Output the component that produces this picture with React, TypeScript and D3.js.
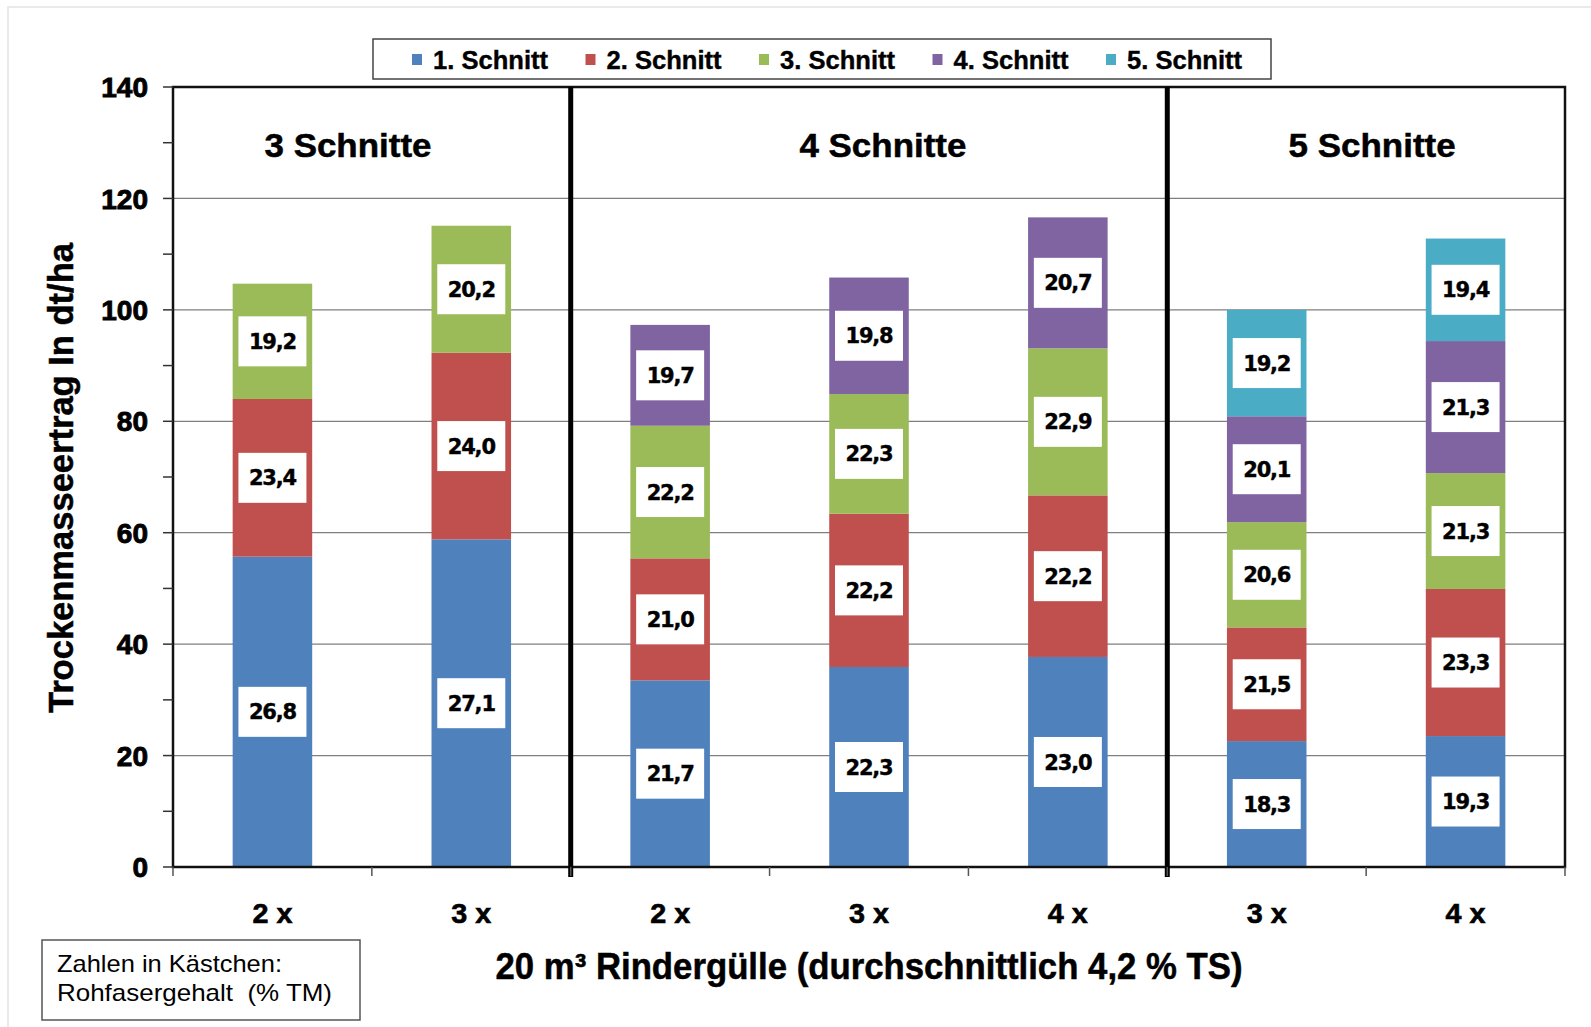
import React from "react";
import * as d3 from "d3";

// x categories (Güllegaben) and the group they belong to
const categories = ["2 x", "3 x", "2 x", "3 x", "4 x", "3 x", "4 x"];
const groupNames = ["3 Schnitte", "4 Schnitte", "5 Schnitte"];
const groupSizes = [2, 3, 2];
// where the group title sits, in category units (0 = first bar)
const groupTitleAt = [0.38, 3.07, 5.53];

const seriesNames = ["1. Schnitt", "2. Schnitt", "3. Schnitt", "4. Schnitt", "5. Schnitt"];
const seriesColors = ["#4F81BD", "#C0504D", "#9BBB59", "#8064A2", "#4BACC6"];

// Trockenmasseertrag (dt/ha) per Schnitt
const yield1 = [55.7, 58.8, 33.5, 35.9, 37.7, 22.6, 23.5];
const yield2 = [28.3, 33.5, 21.9, 27.5, 29.0, 20.4, 26.4];
const yield3 = [20.7, 22.8, 23.8, 21.5, 26.4, 18.9, 20.8];
const yield4 = [0, 0, 18.1, 20.9, 23.5, 19.0, 23.7];
const yield5 = [0, 0, 0, 0, 0, 19.1, 18.4];

// Rohfasergehalt (% TM) in the boxes
const fiber1 = ["26,8", "27,1", "21,7", "22,3", "23,0", "18,3", "19,3"];
const fiber2 = ["23,4", "24,0", "21,0", "22,2", "22,2", "21,5", "23,3"];
const fiber3 = ["19,2", "20,2", "22,2", "22,3", "22,9", "20,6", "21,3"];
const fiber4 = ["", "", "19,7", "19,8", "20,7", "20,1", "21,3"];
const fiber5 = ["", "", "", "", "", "19,2", "19,4"];

const yTicks = [0, 20, 40, 60, 80, 100, 120, 140];

const W = 1591;
const H = 1027;
const M = { left: 173, right: 1565, top: 87, bottom: 867 };

const sans = "'Liberation Sans', Arial, sans-serif";

export default function App() {
  const yields = [yield1, yield2, yield3, yield4, yield5];
  const fibers = [fiber1, fiber2, fiber3, fiber4, fiber5];

  const x = d3
    .scaleBand<number>()
    .domain(d3.range(categories.length))
    .range([M.left, M.right])
    .paddingInner(0.6)
    .paddingOuter(0.3);
  const y = d3.scaleLinear().domain([0, 140]).range([M.bottom, M.top]);
  const catW = (M.right - M.left) / categories.length;
  const centerAt = (u: number) => M.left + catW * (u + 0.5);

  const rows = categories.map((c, i) => {
    const r: any = { i };
    yields.forEach((s, k) => (r["s" + k] = s[i]));
    return r;
  });
  const stack = d3.stack<any>().keys(yields.map((_, k) => "s" + k))(rows);

  const boundaries = d3.range(categories.length + 1).map((i) => M.left + i * catW);
  const cum = Array.from(d3.cumsum(groupSizes));
  const sepIdx = cum.slice(0, -1);

  const legendX = 373;
  const legendStep = 173.5;

  return (
    <svg width={W} height={H} style={{ position: "absolute", left: 0, top: 0, background: "#fff" }}>
      <rect x={8} y={7} width={1640} height={1100} fill="#fff" stroke="#e3e3e3" strokeWidth={1.5} />

      {/* gridlines */}
      {yTicks.slice(1, -1).map((t) => (
        <line key={t} x1={M.left} x2={M.right} y1={y(t)} y2={y(t)} stroke="#7f7f7f" strokeWidth={1.3} />
      ))}

      {/* bars */}
      {stack.map((layer, k) =>
        layer.map((d, i) =>
          d[1] - d[0] > 0 ? (
            <rect
              key={k + "-" + i}
              x={x(i)}
              y={y(d[1])}
              width={x.bandwidth()}
              height={y(d[0]) - y(d[1])}
              fill={seriesColors[k]}
            />
          ) : null
        )
      )}

      {/* fiber label boxes */}
      {stack.map((layer, k) =>
        layer.map((d, i) =>
          fibers[k][i] ? (
            <g key={"l" + k + "-" + i} transform={`translate(${(x(i) as number) + x.bandwidth() / 2},${y((d[0] + d[1]) / 2)})`}>
              <rect x={-34} y={-25} width={68} height={50} fill="#fff" />
              <text
                textAnchor="middle"
                dy="0.36em"
                fontFamily="'DejaVu Sans', Tahoma, sans-serif"
                fontWeight="bold"
                fontSize={21}
                letterSpacing={-1.2}
                stroke="#000"
                strokeWidth={0.4}
              >
                {fibers[k][i]}
              </text>
            </g>
          ) : null
        )
      )}

      {/* plot frame */}
      <rect x={M.left} y={M.top} width={M.right - M.left} height={M.bottom - M.top} fill="none" stroke="#111" strokeWidth={2.5} />

      {/* group separators */}
      {sepIdx.map((s) => (
        <line key={s} x1={boundaries[s]} x2={boundaries[s]} y1={M.top} y2={M.bottom + 10} stroke="#000" strokeWidth={5} />
      ))}

      {/* x ticks */}
      {boundaries.map((b, i) => (
        <line key={i} x1={b} x2={b} y1={M.bottom} y2={M.bottom + 9} stroke="#555" strokeWidth={1.5} />
      ))}

      {/* y ticks */}
      {d3.range(0, 141, 10).map((t) => (
        <line key={t} x1={M.left - 10} x2={M.left} y1={y(t)} y2={y(t)} stroke="#333" strokeWidth={1.5} />
      ))}
      {yTicks.map((t) => (
        <text
          key={t}
          x={M.left - 25}
          y={y(t)}
          dy="0.36em"
          textAnchor="end"
          fontFamily={sans}
          fontWeight="bold"
          fontSize={28}
          stroke="#000"
          strokeWidth={0.9}
        >
          {t}
        </text>
      ))}

      {/* group titles */}
      {groupNames.map((g, gi) => (
        <text
          key={g}
          x={centerAt(groupTitleAt[gi])}
          y={157}
          textAnchor="middle"
          fontFamily={sans}
          fontWeight="bold"
          fontSize={33}
          textLength={167}
          lengthAdjust="spacingAndGlyphs"
          stroke="#000"
          strokeWidth={0.5}
        >
          {g}
        </text>
      ))}

      {/* x labels */}
      {categories.map((c, i) => (
        <text
          key={i}
          x={(x(i) as number) + x.bandwidth() / 2}
          y={923}
          textAnchor="middle"
          fontFamily={sans}
          fontWeight="bold"
          fontSize={28}
          textLength={40}
          lengthAdjust="spacingAndGlyphs"
          stroke="#000"
          strokeWidth={0.6}
        >
          {c}
        </text>
      ))}

      <text
        x={869}
        y={979}
        textAnchor="middle"
        fontFamily={sans}
        fontWeight="bold"
        fontSize={36}
        textLength={747}
        lengthAdjust="spacingAndGlyphs"
        stroke="#000"
        strokeWidth={0.5}
      >
        20 m³ Rindergülle (durchschnittlich 4,2 % TS)
      </text>

      <text
        transform={`translate(73,478) rotate(-90)`}
        textAnchor="middle"
        fontFamily={sans}
        fontWeight="bold"
        fontSize={35}
        textLength={470}
        lengthAdjust="spacingAndGlyphs"
        stroke="#000"
        strokeWidth={0.5}
      >
        Trockenmasseertrag In dt/ha
      </text>

      {/* legend */}
      <rect x={legendX} y={39} width={898} height={40} fill="#fff" stroke="#444" strokeWidth={1.5} />
      {seriesNames.map((s, k) => (
        <g key={s} transform={`translate(${412 + k * legendStep},60)`}>
          <rect x={0} y={-6} width={10} height={11} fill={seriesColors[k]} />
          <text
            x={21}
            y={9}
            fontFamily={sans}
            fontWeight="bold"
            fontSize={26}
            textLength={115}
            lengthAdjust="spacingAndGlyphs"
            stroke="#000"
            strokeWidth={0.4}
          >
            {s}
          </text>
        </g>
      ))}

      {/* note box */}
      <rect x={42} y={940} width={318} height={80} fill="#fff" stroke="#555" strokeWidth={1.5} />
      <text x={57} y={972} fontFamily={sans} fontSize={24} textLength={225} lengthAdjust="spacingAndGlyphs">
        Zahlen in Kästchen:
      </text>
      <text x={57} y={1001} fontFamily={sans} fontSize={24} textLength={275} lengthAdjust="spacingAndGlyphs" xmlSpace="preserve">
        Rohfasergehalt  (% TM)
      </text>
    </svg>
  );
}
